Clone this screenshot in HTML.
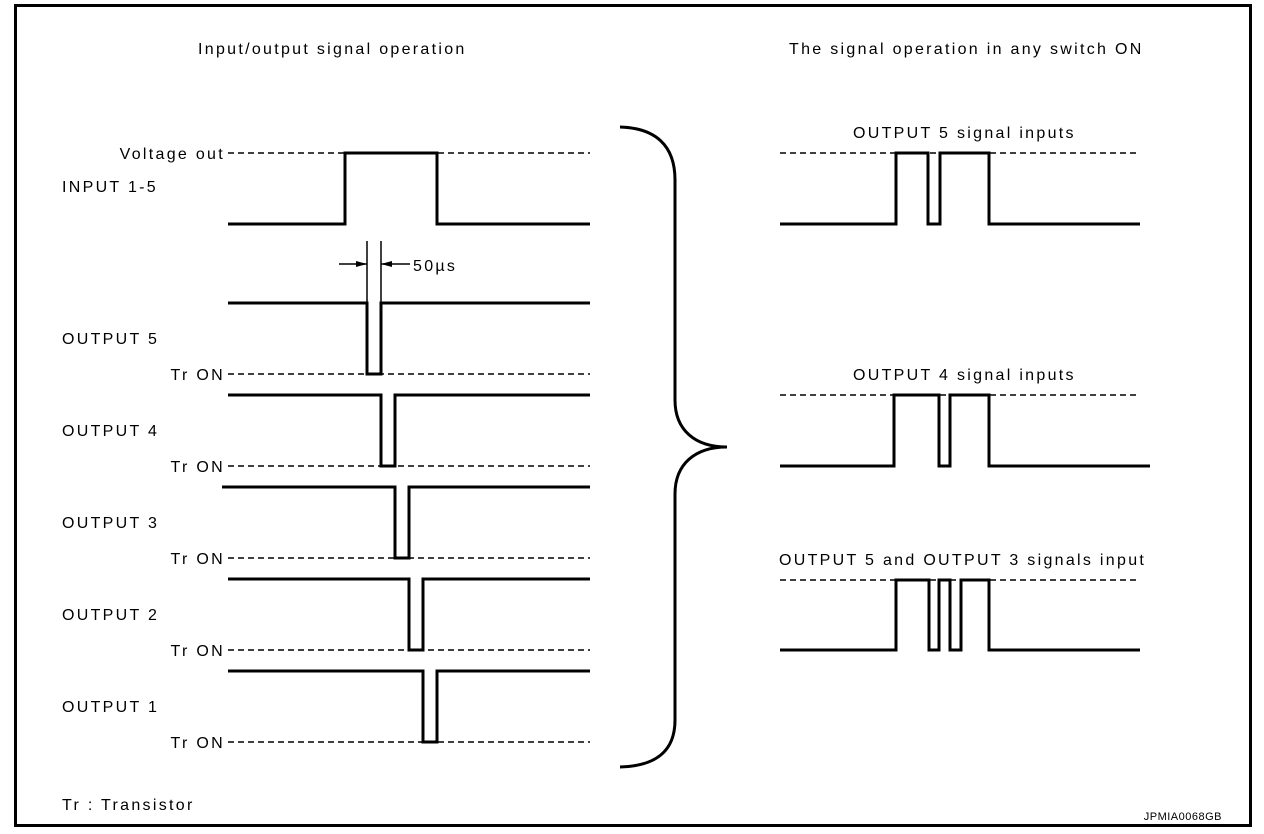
<!DOCTYPE html>
<html><head><style>
body{margin:0;background:#fff;}
svg{display:block;}
text{font-family:"Liberation Sans",sans-serif;font-size:16px;fill:#000;letter-spacing:2.3px;}
</style></head><body>
<svg width="1264" height="834" viewBox="0 0 1264 834" xmlns="http://www.w3.org/2000/svg">
<rect x="15.5" y="5.5" width="1235" height="820" fill="none" stroke="#000" stroke-width="3"/>
<text x="198" y="54">Input/output signal operation</text>
<text x="789" y="54">The signal operation in any switch ON</text>
<g text-anchor="end">
<text x="225" y="159">Voltage out</text>
<text x="225" y="380">Tr ON</text>
<text x="225" y="472">Tr ON</text>
<text x="225" y="564">Tr ON</text>
<text x="225" y="656">Tr ON</text>
<text x="225" y="748">Tr ON</text>
</g>
<text x="62" y="192">INPUT 1-5</text>
<text x="62" y="344">OUTPUT 5</text>
<text x="62" y="436">OUTPUT 4</text>
<text x="62" y="528">OUTPUT 3</text>
<text x="62" y="620">OUTPUT 2</text>
<text x="62" y="712">OUTPUT 1</text>
<text x="62" y="810">Tr : Transistor</text>
<text x="1222" y="820" text-anchor="end" style="font-size:11px;letter-spacing:0.5px">JPMIA0068GB</text>
<text x="853" y="138">OUTPUT 5 signal inputs</text>
<text x="853" y="380">OUTPUT 4 signal inputs</text>
<text x="779" y="565">OUTPUT 5 and OUTPUT 3 signals input</text>
<text x="413" y="271">50µs</text>
<g stroke="#000" stroke-width="1.5" stroke-dasharray="6,4" fill="none">
<line x1="228" y1="153" x2="590" y2="153"/>
<line x1="228" y1="374" x2="590" y2="374"/>
<line x1="228" y1="466" x2="590" y2="466"/>
<line x1="228" y1="558" x2="590" y2="558"/>
<line x1="228" y1="650" x2="590" y2="650"/>
<line x1="228" y1="742" x2="590" y2="742"/>
<line x1="780" y1="153" x2="1140" y2="153"/>
<line x1="780" y1="395" x2="1140" y2="395"/>
<line x1="780" y1="580" x2="1140" y2="580"/>
</g>
<g stroke="#000" stroke-width="3" fill="none" stroke-linejoin="miter">
<polyline points="228,224 345,224 345,153 437,153 437,224 590,224"/>
<polyline points="228,303 367,303 367,374 381,374 381,303 590,303"/>
<polyline points="228,395 381,395 381,466 395,466 395,395 590,395"/>
<polyline points="222,487 395,487 395,558 409,558 409,487 590,487"/>
<polyline points="228,579 409,579 409,650 423,650 423,579 590,579"/>
<polyline points="228,671 423,671 423,742 437,742 437,671 590,671"/>
<polyline points="780,224 896,224 896,153 928,153 928,224 940,224 940,153 989,153 989,224 1140,224"/>
<polyline points="780,466 894,466 894,395 939,395 939,466 950,466 950,395 989,395 989,466 1150,466"/>
<polyline points="780,650 896,650 896,580 929,580 929,650 939,650 939,580 950,580 950,650 961,650 961,580 989,580 989,650 1140,650"/>
<path d="M620,127 C655,128 675,145 675,180 L675,400 C675,430 695,447 727,447 C695,447 675,464 675,494 L675,720 C675,752 655,766 620,767"/>
</g>
<g stroke="#000" stroke-width="1.5">
<line x1="367" y1="241" x2="367" y2="303"/>
<line x1="381" y1="241" x2="381" y2="303"/>
<line x1="339" y1="264" x2="367" y2="264"/>
<line x1="381" y1="264" x2="410" y2="264"/>
</g>
<polygon points="367,264 356,261 356,267" fill="#000"/>
<polygon points="381,264 392,261 392,267" fill="#000"/>
</svg>
</body></html>
